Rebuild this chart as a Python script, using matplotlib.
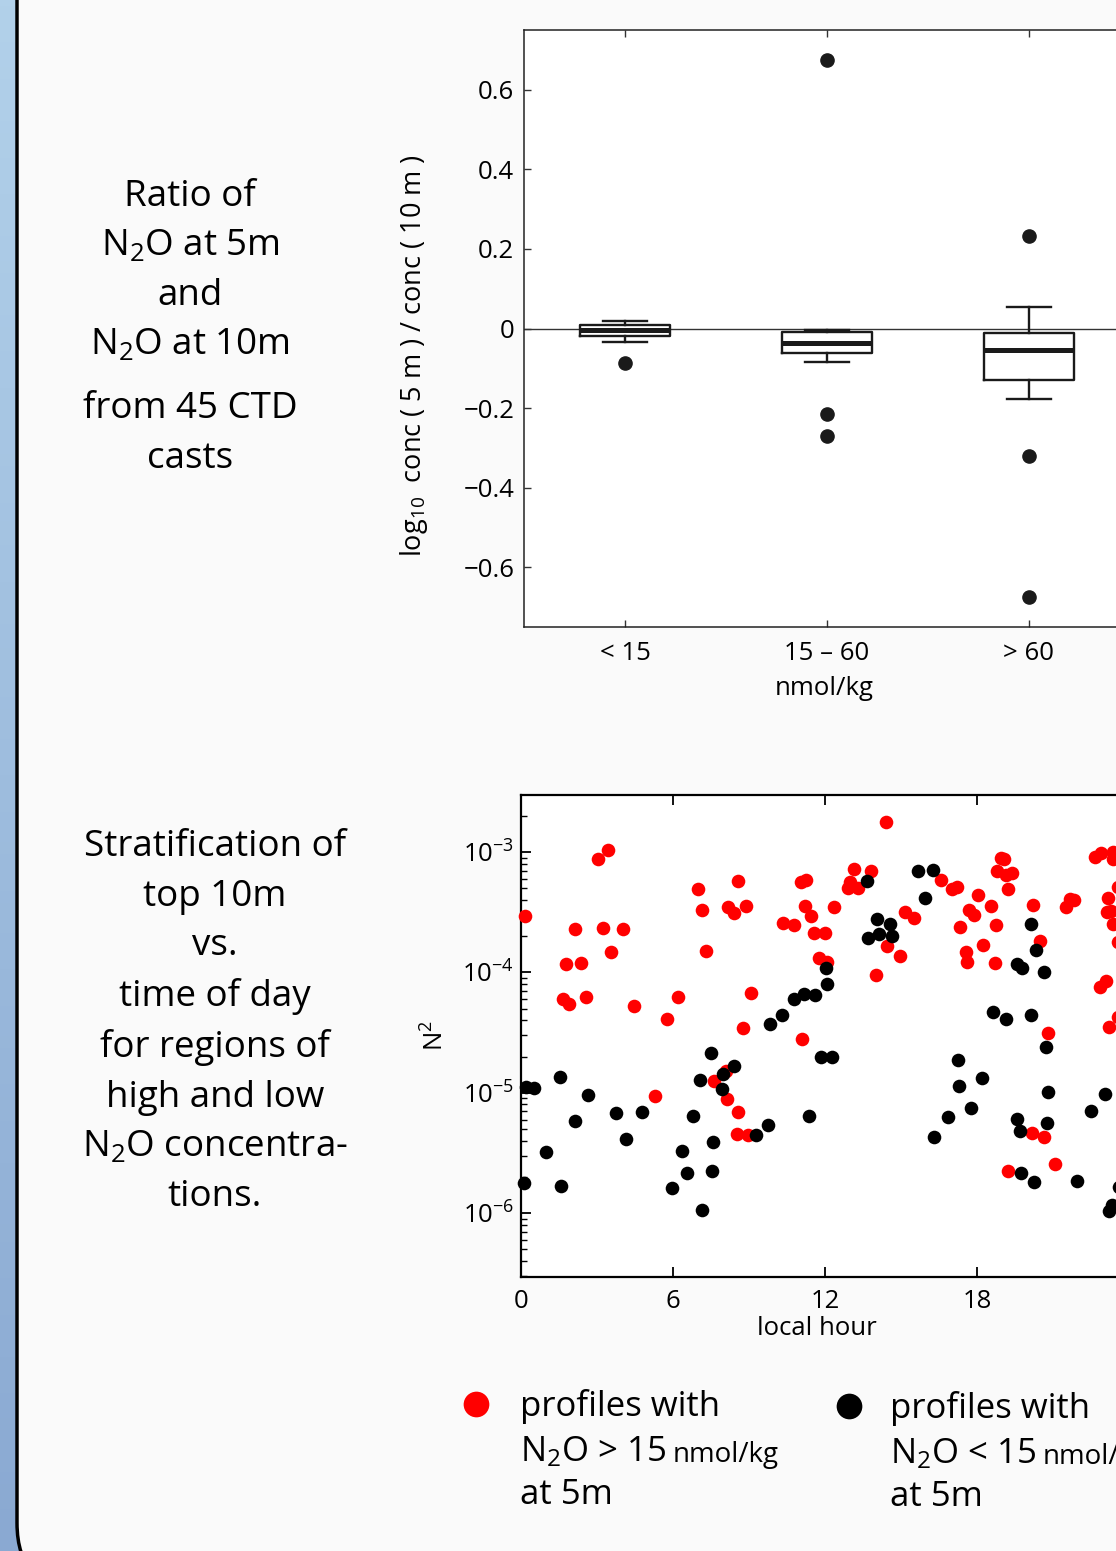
import numpy as np
import matplotlib
matplotlib.use('Agg')
import matplotlib.pyplot as plt
from matplotlib.patches import FancyBboxPatch
from matplotlib.lines import Line2D
import matplotlib.ticker as mticker

plt.rcParams['font.family'] = ['Open Sans', 'DejaVu Sans']
plt.rcParams['mathtext.fontset'] = 'custom'
plt.rcParams['mathtext.rm'] = 'Open Sans'
plt.rcParams['mathtext.it'] = 'Open Sans:italic'
plt.rcParams['mathtext.bf'] = 'Open Sans:bold'
plt.rcParams['mathtext.sf'] = 'Open Sans'

# ---- box plot: log10 ratio of N2O at 5 m and 10 m ----
groups = ['< 15', '15 \u2013 60', '> 60']
box_q1 = [-0.020, -0.061, -0.130]
box_med = [-0.003, -0.036, -0.055]
box_q3 = [0.008, -0.008, -0.011]
whisk_lo = [-0.034, -0.083, -0.178]
whisk_hi = [0.020, -0.003, 0.054]
outliers = [[-0.087], [0.675, -0.215, -0.270], [0.232, -0.320, -0.675]]
ratio_ticks = [-0.6, -0.4, -0.2, 0, 0.2, 0.4, 0.6]
ratio_ticklabels = ['\u22120.6', '\u22120.4', '\u22120.2', '0', '0.2', '0.4', '0.6']

# ---- scatter: stratification vs local hour (log10 N^2) ----
# profiles with N2O > 15 nmol/kg at 5 m
high_hour = [0.16, 3.05, 3.45, 2.13, 3.23, 4.01, 3.54, 1.76, 2.37, 1.67,
             1.90, 2.55, 4.47, 5.78, 6.21, 6.98, 7.16, 7.30, 8.18, 8.41,
             8.89, 8.58, 9.08, 8.78, 10.33, 10.79, 11.05, 11.25, 11.21, 11.45,
             11.58, 12.00, 11.76, 12.06, 11.11, 14.41, 13.16, 13.81, 12.99, 12.90,
             13.29, 12.37, 14.02, 14.46, 14.96, 15.16, 15.53, 16.57, 17.00, 17.20,
             18.05, 17.69, 17.90, 18.56, 17.33, 18.75, 18.25, 17.57, 17.60, 18.73,
             18.94, 19.07, 18.80, 19.14, 19.40, 19.24, 20.23, 20.49, 20.79, 21.52,
             21.67, 21.84, 22.66, 22.89, 23.36, 23.38, 23.16, 23.12, 23.29, 23.36,
             23.57, 23.57, 22.86, 23.10, 23.23, 23.57, 5.29, 7.63, 8.09, 8.13,
             8.56, 8.52, 8.97, 20.17, 20.65, 21.07, 19.23]
high_logn2 = [-3.53, -3.06, -2.98, -3.64, -3.63, -3.64, -3.83, -3.93, -3.92, -4.22,
              -4.26, -4.20, -4.28, -4.39, -4.20, -3.31, -3.48, -3.82, -3.46, -3.51,
              -3.45, -3.24, -4.17, -4.46, -3.59, -3.61, -3.25, -3.23, -3.45, -3.53,
              -3.67, -3.67, -3.88, -3.91, -4.55, -2.75, -3.14, -3.16, -3.25, -3.30,
              -3.30, -3.46, -4.02, -3.78, -3.86, -3.50, -3.55, -3.23, -3.31, -3.29,
              -3.36, -3.48, -3.52, -3.45, -3.62, -3.61, -3.77, -3.83, -3.91, -3.92,
              -3.05, -3.06, -3.16, -3.19, -3.17, -3.31, -3.44, -3.74, -4.50, -3.46,
              -3.39, -3.40, -3.04, -3.01, -3.00, -3.06, -3.38, -3.50, -3.49, -3.60,
              -3.29, -3.75, -4.12, -4.07, -4.45, -4.37, -5.03, -4.90, -4.82, -5.05,
              -5.16, -5.34, -5.35, -5.33, -5.37, -5.59, -5.65]
# profiles with N2O < 15 nmol/kg at 5 m
low_hour = [9.83, 10.32, 10.79, 11.16, 11.61, 12.04, 12.07, 13.65, 15.66, 16.28,
            15.96, 14.04, 14.57, 13.69, 14.13, 14.63, 20.12, 20.33, 19.59, 19.79,
            20.66, 18.65, 19.15, 20.12, 0.20, 0.53, 1.54, 2.66, 2.13, 0.99,
            0.13, 1.57, 3.75, 4.77, 4.16, 7.51, 7.07, 7.99, 8.41, 7.92,
            6.80, 7.57, 6.37, 6.55, 7.55, 5.97, 7.13, 9.28, 9.76, 11.38,
            11.83, 12.29, 17.26, 18.19, 17.29, 17.75, 16.85, 16.32, 20.73, 20.82,
            19.59, 19.70, 20.77, 19.73, 20.25, 21.94, 22.50, 23.06, 23.21, 23.32,
            23.61]
low_logn2 = [-4.43, -4.35, -4.22, -4.18, -4.19, -3.96, -4.10, -3.24, -3.16, -3.15,
             -3.38, -3.56, -3.60, -3.71, -3.68, -3.70, -3.60, -3.81, -3.93, -3.96,
             -4.00, -4.33, -4.39, -4.35, -4.95, -4.96, -4.87, -5.02, -5.23, -5.49,
             -5.75, -5.77, -5.17, -5.16, -5.38, -4.67, -4.89, -4.84, -4.78, -4.97,
             -5.19, -5.41, -5.48, -5.67, -5.65, -5.79, -5.97, -5.35, -5.27, -5.19,
             -4.70, -4.70, -4.73, -4.88, -4.94, -5.13, -5.20, -5.37, -4.62, -4.99,
             -5.22, -5.32, -5.25, -5.67, -5.74, -5.73, -5.15, -5.01, -5.98, -5.93,
             -5.78]
hour_ticks = [0, 6, 12, 18]

W, H = 1116, 1551
fig = plt.figure(figsize=(W / 100, H / 100), dpi=100)

# background: blue gradient strip and rounded light panel
ax_bg = fig.add_axes([0, 0, 1, 1])
ax_bg.set_xlim(0, W)
ax_bg.set_ylim(H, 0)
ax_bg.axis('off')
top_c = np.array([0xB2, 0xD1, 0xEA]) / 255
bot_c = np.array([0x8A, 0xA9, 0xD2]) / 255
t = np.linspace(0, 1, 256)[:, None, None]
grad = top_c[None, None, :] * (1 - t) + bot_c[None, None, :] * t
ax_bg.imshow(grad, extent=[0, W, H, 0], aspect='auto', zorder=0)
panel = FancyBboxPatch((17, -300), 1500, 1891, boxstyle='round,pad=0,rounding_size=68',
                       fc='#fafafa', ec='black', lw=2.5, zorder=1)
ax_bg.add_patch(panel)

# left side captions
cap_size = 26.5
cap_ls = 1.5
fig.text(190 / W, 1 - 271 / H, 'Ratio of\nN$_2$O at 5m\nand\nN$_2$O at 10m',
         ha='center', va='center', fontsize=cap_size, linespacing=cap_ls,
         multialignment='center')
fig.text(190 / W, 1 - 434 / H, 'from 45 CTD\ncasts',
         ha='center', va='center', fontsize=cap_size, linespacing=cap_ls,
         multialignment='center')
fig.text(215 / W, 1 - 1022 / H,
         'Stratification of\ntop 10m\nvs.\ntime of day\nfor regions of\nhigh and low\n'
         'N$_2$O concentra-\ntions.',
         ha='center', va='center', fontsize=cap_size, linespacing=cap_ls,
         multialignment='center')

# ---- top panel: box plot ----
ax1 = fig.add_axes([524 / W, 1 - 627 / H, 808 / W, 597 / H])
stats = []
for i in range(len(groups)):
    stats.append(dict(med=box_med[i], q1=box_q1[i], q3=box_q3[i],
                      whislo=whisk_lo[i], whishi=whisk_hi[i], fliers=outliers[i]))
ax1.axhline(0, color='#333333', lw=1.0, zorder=1)
ax1.bxp(stats, positions=range(1, len(groups) + 1), widths=0.45, capwidths=0.22,
        boxprops=dict(color='#1a1a1a', lw=1.7),
        medianprops=dict(color='#1a1a1a', lw=3.6),
        whiskerprops=dict(color='#1a1a1a', lw=1.7),
        capprops=dict(color='#1a1a1a', lw=1.7),
        flierprops=dict(marker='o', mfc='#1a1a1a', mec='#1a1a1a', ms=9.5))
ax1.set_xlim(0.5, 4.5)
ax1.set_ylim(-0.75, 0.75)
ax1.set_xticks(range(1, len(groups) + 1))
ax1.set_xticklabels(groups)
ax1.set_yticks(ratio_ticks)
ax1.set_yticklabels(ratio_ticklabels)
ax1.tick_params(direction='in', top=True, right=True, length=5, width=1.0,
                labelsize=18.5, color='#333333')
ax1.tick_params(axis='x', pad=10)
ax1.tick_params(axis='y', pad=7)
for spine in ax1.spines.values():
    spine.set_linewidth(1.1)
    spine.set_color('#222222')
ax1.set_xlabel('nmol/kg', fontsize=18.5)
ax1.xaxis.set_label_coords((824 - 524) / 808, -(676 - 627) / 597)
ax1.set_ylabel('log$_{10}$  conc ( 5 m ) / conc ( 10 m )', fontsize=19.5)
ax1.yaxis.set_label_coords(-(524 - 430) / 808, 1 - (356 - 30) / 597)

# ---- bottom panel: N^2 vs local hour ----
ax2 = fig.add_axes([521 / W, 1 - 1277 / H, 608 / W, 482 / H])
ax2.set_yscale('log')
ax2.plot(high_hour, 10 ** np.array(high_logn2), 'o', color='#ff0000', ms=9.8, mew=0,
         clip_on=False, zorder=3)
ax2.plot(low_hour, 10 ** np.array(low_logn2), 'o', color='black', ms=9.8, mew=0,
         clip_on=False, zorder=4)
ax2.set_xlim(0, 24)
ax2.set_ylim(10 ** -6.53, 10 ** -2.526)
ax2.set_xticks(hour_ticks)
ax2.yaxis.set_major_locator(mticker.LogLocator(base=10, numticks=10))
ax2.yaxis.set_minor_locator(mticker.LogLocator(base=10, subs=np.arange(2, 10), numticks=10))
ax2.yaxis.set_minor_formatter(mticker.NullFormatter())
ax2.tick_params(which='major', direction='in', top=True, right=True, length=7, width=1.3,
                labelsize=18.5)
ax2.tick_params(which='minor', direction='in', top=True, right=True, length=4, width=1.0)
ax2.tick_params(axis='x', pad=9)
ax2.tick_params(axis='y', pad=5)
for spine in ax2.spines.values():
    spine.set_linewidth(1.6)
ax2.set_xlabel('local hour', fontsize=18.5)
ax2.xaxis.set_label_coords((817 - 521) / 608, -(1316 - 1277) / 482)
ax2.set_ylabel('N$^2$', fontsize=18.5)
ax2.yaxis.set_label_coords(-(521 - 450) / 608, 0.5)

# ---- legend below the scatter ----
legend_colors = ['#ff0000', 'black']
legend_signs = ['>', '<']
legend_x = [476, 849]
legend_tx = [520, 890]
legend_dy = [0, 2]
for c, s, mx, tx, dy in zip(legend_colors, legend_signs, legend_x, legend_tx, legend_dy):
    fig.add_artist(Line2D([mx / W], [1 - (1404 + dy) / H], marker='o', ms=18.5, mew=0,
                          color=c, ls='', transform=fig.transFigure))
    fig.text(tx / W, 1 - (1416 + dy) / H, 'profiles with', fontsize=25, va='baseline')
    tline = fig.text(tx / W, 1 - (1461 + dy) / H, 'N$_2$O ' + s + ' 15', fontsize=25,
                     va='baseline')
    ax_bg.annotate('nmol/kg', xy=(1, 0), xycoords=tline, xytext=(5, 0),
                   textcoords='offset points', fontsize=20, va='bottom', ha='left')
    fig.text(tx / W, 1 - (1504 + dy) / H, 'at 5m', fontsize=25, va='baseline')

fig.savefig('out.png', dpi=100)
